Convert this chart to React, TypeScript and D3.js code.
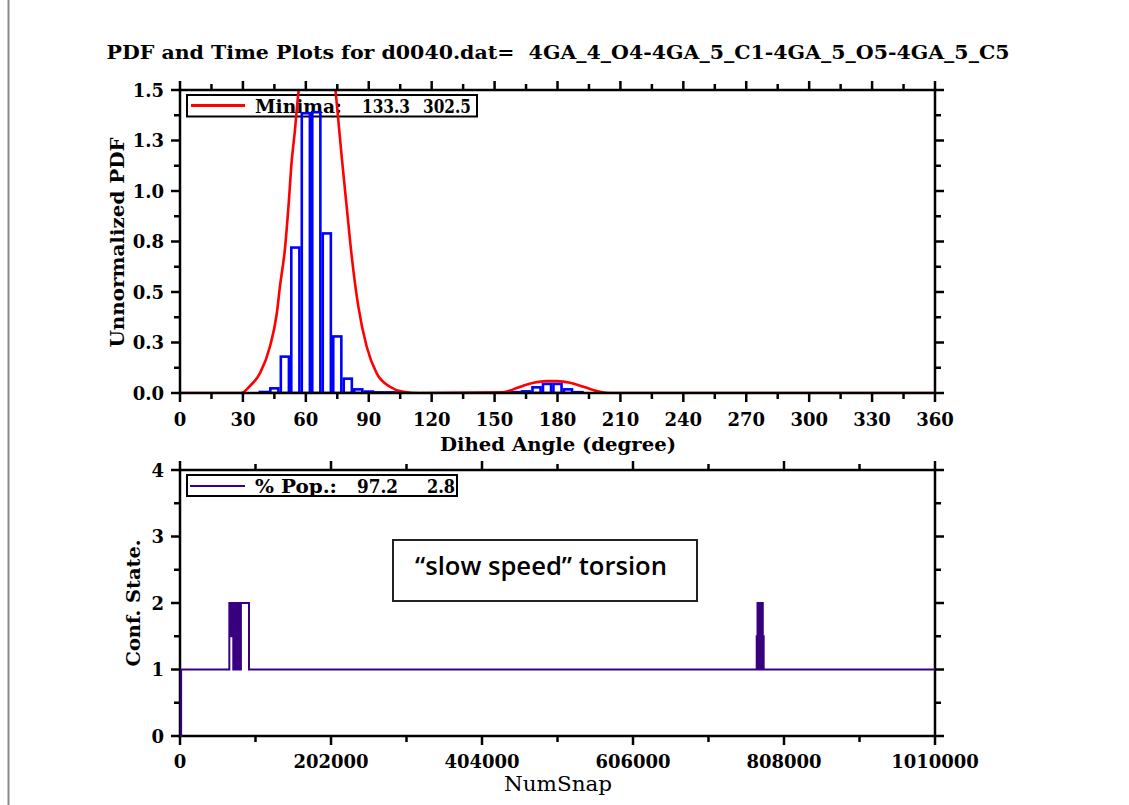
import React from "react";
import * as d3 from "d3";

// ---------- data ----------
const titleText = "PDF and Time Plots for d0040.dat=  4GA_4_O4-4GA_5_C1-4GA_5_O5-4GA_5_C5";

// histogram (bin centres, 5 deg wide)
const binCenters = [40, 45, 50, 55, 60, 65, 70, 75, 80, 85, 90, 95, 100, 105, 160, 165, 170, 175, 180, 185, 190];
const binValues = [0.005, 0.023, 0.18, 0.72, 1.385, 1.39, 0.79, 0.28, 0.071, 0.018, 0.007, 0.003, 0.003, 0.002, 0.004, 0.008, 0.028, 0.045, 0.045, 0.018, 0.004];
const binWidth = 5;

// smoothed PDF curve
const curveAngles = [0, 28, 30, 33.4, 38.1, 42.9, 46.1, 47.7, 50.1, 51.7, 53.2, 54.8, 56.1, 58, 61, 65, 69, 72.5, 73.9, 75.5, 77.1, 79.5, 81.9, 85, 89, 93.8, 100.1, 106.5, 114, 154, 158.9, 163.7, 168.5, 174.8, 179.6, 186, 190.7, 195.5, 200.3, 205, 360];
const curveValues = [0, 0, 0.003, 0.035, 0.097, 0.23, 0.39, 0.53, 0.72, 0.92, 1.14, 1.3, 1.45, 1.62, 1.85, 1.95, 1.85, 1.62, 1.52, 1.35, 1.17, 0.92, 0.675, 0.43, 0.23, 0.097, 0.031, 0.006, 0, 0.003, 0.018, 0.036, 0.051, 0.059, 0.059, 0.051, 0.036, 0.02, 0.006, 0, 0];

// time series of conformational state (step)
const snaps = [0, 1500, 66000, 67200, 68200, 69200, 70200, 71300, 72300, 73200, 74000, 75300, 76200, 77000, 77900, 78800, 79700, 80600, 81500, 92300,
  771500, 772600, 773600, 774600, 775600, 776600, 777600, 778600, 779600, 780800, 1010000];
const states = [0, 1, 2, 1.5, 2, 1.5, 2, 1, 2, 1, 2, 1, 1.5, 1, 2, 1, 1.5, 1, 2, 1,
  1.5, 2, 1, 2, 1, 2, 1, 2, 1.5, 1, 1];

// ticks
const angleMajorTicks = [0, 30, 60, 90, 120, 150, 180, 210, 240, 270, 300, 330, 360];
const angleMinorTicks = [15, 45, 75, 105, 135, 165, 195, 225, 255, 285, 315, 345];
const pdfMajorTicks = [0, 0.25, 0.5, 0.75, 1.0, 1.25, 1.5];
const pdfMinorTicks = [0.125, 0.375, 0.625, 0.875, 1.125, 1.375];
const snapMajorTicks = [0, 202000, 404000, 606000, 808000, 1010000];
const snapMinorTicks = [101000, 303000, 505000, 707000, 909000];
const stateMajorTicks = [0, 1, 2, 3, 4];
const stateMinorTicks = [0.5, 1.5, 2.5, 3.5];

const legendMinima = ["Minima:", "133.3", "302.5"];
const legendPop = ["% Pop.:", "97.2", "2.8"];

// ---------- styles ----------
const FONT = "'DejaVu Serif', serif";
const PURPLE = "#38007f";
const MAJ = 9;
const MIN = 6;

function Frame({ x0, x1, y0, y1, xs, ys, xMaj, xMin, yMaj, yMin }: any) {
  const els: any[] = [];
  xMaj.forEach((v: number, i: number) => {
    const x = xs(v);
    els.push(<line key={"xb" + i} x1={x} x2={x} y1={y1} y2={y1 + MAJ} />);
    els.push(<line key={"xt" + i} x1={x} x2={x} y1={y0} y2={y0 - MAJ} />);
  });
  xMin.forEach((v: number, i: number) => {
    const x = xs(v);
    els.push(<line key={"xbm" + i} x1={x} x2={x} y1={y1} y2={y1 + MIN} />);
    els.push(<line key={"xtm" + i} x1={x} x2={x} y1={y0} y2={y0 - MIN} />);
  });
  yMaj.forEach((v: number, i: number) => {
    const y = ys(v);
    els.push(<line key={"yl" + i} x1={x0} x2={x0 - MAJ} y1={y} y2={y} />);
    els.push(<line key={"yr" + i} x1={x1} x2={x1 + MAJ} y1={y} y2={y} />);
  });
  yMin.forEach((v: number, i: number) => {
    const y = ys(v);
    els.push(<line key={"ylm" + i} x1={x0} x2={x0 - MIN} y1={y} y2={y} />);
    els.push(<line key={"yrm" + i} x1={x1} x2={x1 + MIN} y1={y} y2={y} />);
  });
  return (
    <g stroke="#000" strokeWidth={2.5} fill="none">
      {els}
      <rect x={x0} y={y0} width={x1 - x0} height={y1 - y0} />
    </g>
  );
}

export default function App() {
  const xA = d3.scaleLinear().domain([0, 360]).range([180, 935]);
  const yA = d3.scaleLinear().domain([0, 1.5]).range([393, 90]);
  const xT = d3.scaleLinear().domain([0, 1010000]).range([180, 935]);
  const yT = d3.scaleLinear().domain([0, 4]).range([736, 470]);

  const pdfLine = d3
    .line<number>()
    .x((_, i) => xA(curveAngles[i]))
    .y((d) => yA(d))
    .curve(d3.curveMonotoneX);

  const stateLine = d3
    .line<number>()
    .x((_, i) => xT(snaps[i]))
    .y((d) => yT(d))
    .curve(d3.curveStepAfter);

  const fmt1 = d3.format(".1f");
  const inset = 1.2;

  return (
    <svg width={1129} height={805} style={{ position: "absolute", left: 0, top: 0, background: "#fff" }}>
      <defs>
        <clipPath id="clipTop">
          <rect x={180} y={90} width={755} height={303} />
        </clipPath>
      </defs>
      <rect x={0} y={0} width={1129} height={805} fill="#fff" />
      <line x1={8.5} x2={8.5} y1={0} y2={805} stroke="#8a8a8a" strokeWidth={2} />

      {/* title */}
      <text x={558} y={59} textAnchor="middle" fontFamily={FONT} fontWeight="bold" fontSize={18} textLength={903} lengthAdjust="spacingAndGlyphs" style={{ whiteSpace: "pre" }}>
        {titleText}
      </text>

      {/* ---------- top plot ---------- */}
      {/* legend */}
      <rect x={187} y={95} width={290} height={21.5} fill="none" stroke="#000" strokeWidth={2} />
      <line x1={191} x2={245} y1={105.5} y2={105.5} stroke="#ff0000" strokeWidth={3} />
      <g fontFamily={FONT} fontWeight="bold" fontSize={18}>
        <text x={255} y={113} textLength={87} lengthAdjust="spacingAndGlyphs">{legendMinima[0]}</text>
        <text x={362} y={113} textLength={48} lengthAdjust="spacingAndGlyphs">{legendMinima[1]}</text>
        <text x={423} y={113} textLength={48} lengthAdjust="spacingAndGlyphs">{legendMinima[2]}</text>
      </g>

      <g clipPath="url(#clipTop)">
        <g fill="none" stroke="#0000ff" strokeWidth={2.6}>
          {binCenters.map((c, i) => {
            const xl = xA(c - binWidth / 2) + inset;
            const xr = xA(c + binWidth / 2) - inset;
            const yTop = yA(binValues[i]);
            return <rect key={i} x={xl} y={yTop} width={xr - xl} height={Math.max(0, yA(0) - yTop)} />;
          })}
        </g>
        <path d={pdfLine(curveValues) || ""} fill="none" stroke="#ff0000" strokeWidth={2.6} />
      </g>

      <Frame x0={180} x1={935} y0={90} y1={393} xs={xA} ys={yA} xMaj={angleMajorTicks} xMin={angleMinorTicks} yMaj={pdfMajorTicks} yMin={pdfMinorTicks} />

      <g fontFamily={FONT} fontWeight="bold" fontSize={18}>
        {angleMajorTicks.map((v) => (
          <text key={v} x={xA(v)} y={426} textAnchor="middle">{v}</text>
        ))}
        {pdfMajorTicks.map((v) => (
          <text key={v} x={164} y={yA(v) + 6.5} textAnchor="end">{fmt1(v)}</text>
        ))}
      </g>
      <text x={558} y={451} textAnchor="middle" fontFamily={FONT} fontWeight="bold" fontSize={19} textLength={236} lengthAdjust="spacingAndGlyphs">Dihed Angle (degree)</text>
      <text transform={`translate(124,${(90 + 393) / 2 + 1}) rotate(-90)`} textAnchor="middle" fontFamily={FONT} fontWeight="bold" fontSize={19} textLength={210} lengthAdjust="spacingAndGlyphs">Unnormalized PDF</text>

      {/* ---------- bottom plot ---------- */}
      <rect x={187} y={475} width={270} height={21} fill="none" stroke="#000" strokeWidth={2} />
      <line x1={190} x2={245} y1={486} y2={486} stroke={PURPLE} strokeWidth={2} />
      <g fontFamily={FONT} fontWeight="bold" fontSize={18}>
        <text x={255} y={493} textLength={82} lengthAdjust="spacingAndGlyphs">{legendPop[0]}</text>
        <text x={357} y={493} textLength={41} lengthAdjust="spacingAndGlyphs">{legendPop[1]}</text>
        <text x={427} y={493} textLength={28} lengthAdjust="spacingAndGlyphs">{legendPop[2]}</text>
      </g>

      <Frame x0={180} x1={935} y0={470} y1={736} xs={xT} ys={yT} xMaj={snapMajorTicks} xMin={snapMinorTicks} yMaj={stateMajorTicks} yMin={stateMinorTicks} />

      <path d={stateLine(states) || ""} fill="none" stroke={PURPLE} strokeWidth={2} />

      <g fontFamily={FONT} fontWeight="bold" fontSize={18}>
        {snapMajorTicks.map((v) => (
          <text key={v} x={xT(v)} y={768} textAnchor="middle">{v}</text>
        ))}
        {stateMajorTicks.map((v) => (
          <text key={v} x={164} y={yT(v) + 6.5} textAnchor="end">{v}</text>
        ))}
      </g>
      <text x={558} y={791} textAnchor="middle" fontFamily={FONT} fontSize={21} textLength={108} lengthAdjust="spacingAndGlyphs">NumSnap</text>
      <text transform={`translate(140,${(470 + 736) / 2}) rotate(-90)`} textAnchor="middle" fontFamily={FONT} fontWeight="bold" fontSize={19} textLength={127} lengthAdjust="spacingAndGlyphs">Conf. State.</text>

      {/* annotation */}
      <rect x={393} y={540} width={304} height={61} fill="#fff" stroke="#222" strokeWidth={2} />
      <text x={541} y={575} textAnchor="middle" fontFamily="'Open Sans', Lato, sans-serif" fontWeight={600} fontSize={24.5} textLength={252} lengthAdjust="spacingAndGlyphs">“slow speed” torsion</text>
    </svg>
  );
}
